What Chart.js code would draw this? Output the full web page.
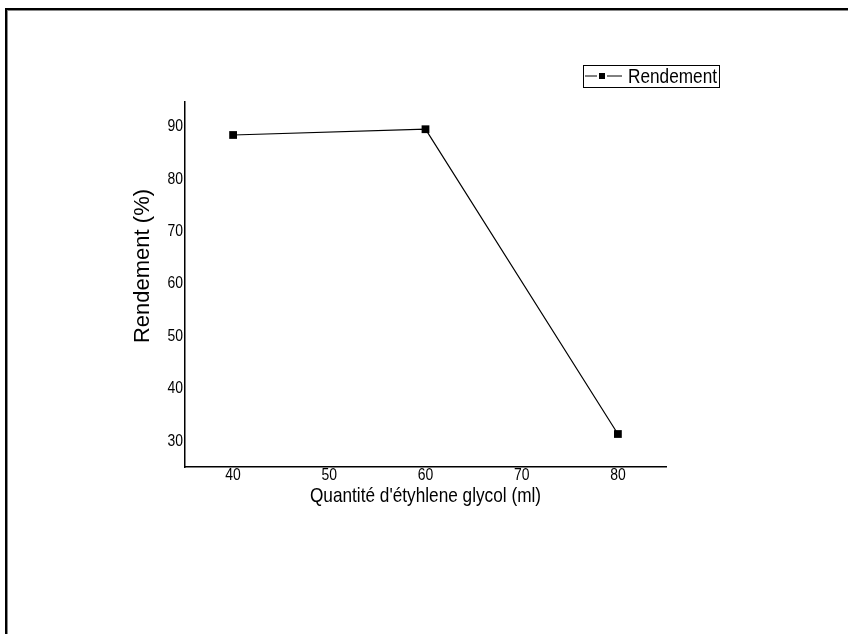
<!DOCTYPE html>
<html lang="fr">
<head>
<meta charset="utf-8">
<title>Rendement</title>
<script src="https://cdn.jsdelivr.net/npm/chart.js@4.4.1/dist/chart.umd.min.js"></script>
<style>
    html, body { margin: 0; padding: 0; background: #fff; overflow: hidden; }
    #cadre {
        position: absolute; left: 5px; top: 8px; width: 900px; height: 700px;
        border-top: 2px solid #000; border-left: 2px solid #000;
        box-shadow: inset 1px 1px 0 #888;
    }
    #chartRendement { position: absolute; left: 0; top: 0; }
</style>
</head>
<body>
<div id="cadre"></div>
<canvas id="chartRendement" width="848" height="634"></canvas>
<script>
// Données
const quantitesGlycol = [40, 60, 80];
const valeursRendement = [88.4, 89.5, 31.3];
const ticksX = [40, 50, 60, 70, 80];
const ticksY = [30, 40, 50, 60, 70, 80, 90];

const police = "'Liberation Sans', Arial, sans-serif";
const ETROIT = 0.82; // pas d'Arial Narrow installée : on compresse à la main

function texteEtroit(ctx, texte, x, y, taille, align, base, echelle) {
    ctx.save();
    ctx.translate(x, y);
    ctx.scale(echelle, 1);
    ctx.font = taille + 'px ' + police;
    ctx.fillStyle = '#000';
    ctx.textAlign = align;
    ctx.textBaseline = base;
    ctx.fillText(texte, 0, 0);
    ctx.restore();
}

// Graduations et titres dessinés en police étroite
const textesAxes = {
    id: 'textesAxes',
    afterDraw(chart, args, opts) {
        const ctx = chart.ctx;
        const sx = chart.scales.x;
        const sy = chart.scales.y;
        ticksX.forEach(v => {
            texteEtroit(ctx, String(v), sx.getPixelForValue(v), sx.top + 8, opts.tailleTicks, 'center', 'middle', ETROIT);
        });
        ticksY.forEach(v => {
            texteEtroit(ctx, String(v), sy.right - 2, sy.getPixelForValue(v), opts.tailleTicks, 'right', 'middle', ETROIT);
        });
        texteEtroit(ctx, opts.titreX, (chart.chartArea.left + chart.chartArea.right) / 2, opts.titreXy, 21, 'center', 'middle', ETROIT);

        ctx.save();
        ctx.translate(opts.titreYx, opts.titreYy);
        ctx.rotate(-Math.PI / 2);
        texteEtroit(ctx, opts.titreY, 0, 0, 22, 'center', 'middle', 1);
        ctx.restore();
    }
};

// Légende encadrée
const legendeEncadree = {
    id: 'legendeEncadree',
    afterDraw(chart, args, opts) {
        const ctx = chart.ctx;
        const ds = chart.data.datasets[0];
        const { x, y, w, h } = opts;
        const cy = y + h / 2;
        ctx.save();
        ctx.strokeStyle = '#000';
        ctx.lineWidth = 1;
        ctx.strokeRect(x + 0.5, y + 0.5, w, h);
        ctx.beginPath();
        ctx.moveTo(x + 2, cy);
        ctx.lineTo(x + 14, cy);
        ctx.moveTo(x + 24, cy);
        ctx.lineTo(x + 39, cy);
        ctx.stroke();
        ctx.fillStyle = '#000';
        ctx.fillRect(x + 16, cy - 3, 6, 6);
        ctx.restore();
        texteEtroit(ctx, ds.label, x + 45, cy + 1, 21, 'left', 'middle', ETROIT);
    }
};

function garderTicks(liste) {
    return function(scale) {
        scale.ticks = liste.map(v => ({ value: v }));
    };
}

function creerGraphiqueRendement() {
    const canvas = document.getElementById('chartRendement');
    if (!canvas) return;

    try {
        new Chart(canvas, {
            type: 'line',
            data: {
                datasets: [{
                    label: 'Rendement',
                    data: quantitesGlycol.map((q, i) => ({ x: q, y: valeursRendement[i] })),
                    borderColor: '#000',
                    backgroundColor: '#000',
                    borderWidth: 1.2,
                    tension: 0,
                    fill: false,
                    pointStyle: 'rect',
                    pointRadius: 5.5,
                    pointBackgroundColor: '#000',
                    pointBorderColor: '#000',
                    pointBorderWidth: 0
                }]
            },
            options: {
                responsive: false,
                animation: false,
                layout: {
                    padding: { left: 120, right: 182, top: 102, bottom: 100 }
                },
                plugins: {
                    legend: { display: false },
                    tooltip: { enabled: false },
                    textesAxes: {
                        tailleTicks: 17,
                        titreX: "Quantité d'étyhlene glycol (ml)",
                        titreXy: 496,
                        titreY: 'Rendement (%)',
                        titreYx: 143,
                        titreYy: 266
                    },
                    legendeEncadree: { x: 583, y: 65, w: 136, h: 22 }
                },
                scales: {
                    x: {
                        type: 'linear',
                        min: 35,
                        max: 85,
                        afterBuildTicks: garderTicks(ticksX),
                        afterFit: function(scale) { scale.height = 67; },
                        grid: { display: false, drawTicks: false },
                        border: { display: true, color: '#000', width: 1.5 },
                        ticks: { display: false }
                    },
                    y: {
                        type: 'linear',
                        min: 25,
                        max: 94.7,
                        afterBuildTicks: garderTicks(ticksY),
                        afterFit: function(scale) { scale.width = 65; },
                        grid: { display: false, drawTicks: false },
                        border: { display: true, color: '#000', width: 1.5 },
                        ticks: { display: false }
                    }
                }
            },
            plugins: [textesAxes, legendeEncadree]
        });
        console.log('Graphique rendement créé');
    } catch (error) {
        console.error('Erreur graphique rendement:', error);
    }
}

creerGraphiqueRendement();
</script>
</body>
</html>
